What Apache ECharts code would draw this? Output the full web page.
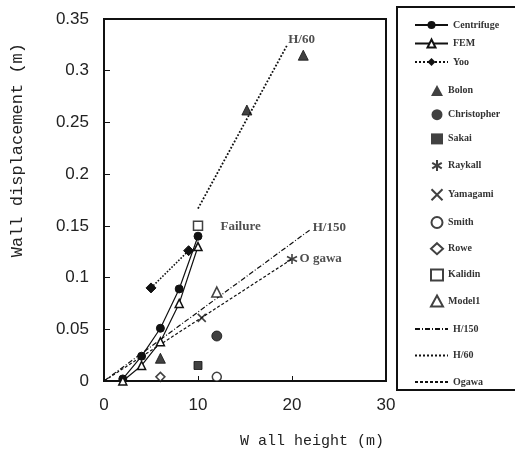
<!DOCTYPE html>
<html>
<head>
<meta charset="utf-8">
<script src="https://cdn.jsdelivr.net/npm/echarts@6/dist/echarts.min.js"></script>
<style>
  html, body { margin: 0; padding: 0; background: #fff; }
  #main { width: 515px; height: 452px; }
</style>
</head>
<body>
<div id="main"></div>
<script>
// 数据 (wall height m, displacement m)
const xTicks = [0, 10, 20, 30]

const centrifuge = [[2, 0.002], [4, 0.024], [6, 0.051], [8, 0.089], [10, 0.14]]
const fem = [[2, 0.0], [4, 0.015], [6, 0.038], [8, 0.075], [10, 0.13]]
const yoo = [[5, 0.09], [9, 0.126]]
const bolon = [[6, 0.022], [15.2, 0.262], [21.2, 0.315]]
const christopher = [[12, 0.0435]]
const sakai = [[10, 0.015]]
const raykall = [[20, 0.118]]
const yamagami = [[10.4, 0.061]]
const smith = [[12, 0.004]]
const rowe = [[6, 0.004]]
const kalidin = [[10, 0.15]]
const model1 = [[12, 0.086]]
const h150 = [[0, 0], [22, 0.1467]]
const h60 = [[10, 0.1667], [19.5, 0.325]]
const ogawa = [[0, 0], [20, 0.118]]

// 图上的注释文字
const notes = [
    {value: [19.6, 0.33], text: 'H/60'},
    {value: [22.2, 0.148], text: 'H/150'},
    {value: [20.8, 0.118], text: 'O gawa'},
    {value: [12.4, 0.149], text: 'Failure'}
]

const topNames = ['Centrifuge', 'FEM', 'Yoo']
const markNames = ['Bolon', 'Christopher', 'Sakai', 'Raykall', 'Yamagami', 'Smith', 'Rowe', 'Kalidin', 'Model1']
const refNames = ['H/150', 'H/60', 'Ogawa']

const ink = '#111'
const asterisk = 'path://M0,-1L0,1M-0.87,-0.5L0.87,0.5M-0.87,0.5L0.87,-0.5'
const cross = 'path://M-1,-1L1,1M-1,1L1,-1'

const filled = {color: ink, borderColor: ink}
const hollow = {color: '#fff', borderColor: ink, borderWidth: 1.5}
const stroked = {color: 'none', borderColor: ink, borderWidth: 1.6}

const scatter = (name, data, symbol, style, size) => ({
    name, type: 'scatter', data, symbol, symbolSize: size || 9,
    itemStyle: style, z: 5
})

const line = (name, data, type, symbol, style, width, size) => ({
    name, type: 'line', data, symbol: symbol || 'none', symbolSize: size || 8,
    showSymbol: !!symbol,
    lineStyle: {color: ink, width: width || 1.2, type: type},
    itemStyle: style || filled, z: 4
})

const legendText = {fontFamily: 'Liberation Serif', fontSize: 10, fontWeight: 'bold', color: '#333'}

var option = {
    animation: false,
    grid: {
        left: 104, right: 129, top: 19, bottom: 71,
        show: true, borderColor: ink, borderWidth: 2
    },
    xAxis: {
        type: 'value', min: 0, max: 30, interval: 10,
        axisLine: {onZero: false, lineStyle: {color: ink, width: 2}},
        axisTick: {inside: true, length: 5, lineStyle: {color: ink}},
        axisLabel: {margin: 16, fontSize: 17, color: '#222', fontFamily: 'Liberation Sans',
            customValues: xTicks},
        splitLine: {show: false}
    },
    yAxis: {
        type: 'value', min: 0, max: 0.35, interval: 0.05,
        axisLine: {show: true, onZero: false, lineStyle: {color: ink, width: 2}},
        axisTick: {show: true, inside: true, length: 6, lineStyle: {color: ink}},
        axisLabel: {margin: 15, fontSize: 17, color: '#222', fontFamily: 'Liberation Sans',
            formatter: v => String(+v.toFixed(2))},
        splitLine: {show: false}
    },
    legend: [
        {
            data: topNames, orient: 'vertical', left: 409, top: 15,
            itemWidth: 33, itemHeight: 10, itemGap: 8.5,
            textStyle: legendText, selectedMode: false
        },
        {
            data: markNames, orient: 'vertical', left: 424, top: 80,
            itemWidth: 12, itemHeight: 11, itemGap: 13.2,
            textStyle: legendText, selectedMode: false
        },
        {
            data: refNames.map(name => ({name, itemStyle: {opacity: 0}})),
            orient: 'vertical', left: 409, top: 319,
            itemWidth: 33, itemHeight: 10, itemGap: 16.5,
            textStyle: legendText, selectedMode: false
        }
    ],
    graphic: [
        {type: 'rect', shape: {x: 397, y: 7, width: 140, height: 383},
            style: {fill: 'none', stroke: ink, lineWidth: 2}, silent: true},
        {type: 'text', left: 9, top: 43, rotation: Math.PI / 2,
            style: {text: 'Wall displacement (m)', font: '17px "Liberation Mono"', fill: '#222'}},
        {type: 'text', left: 240, top: 434,
            style: {text: 'W all height (m)', font: '15px "Liberation Mono"', fill: '#222'}}
    ],
    series: [
        line('Centrifuge', centrifuge, 'solid', 'circle', filled),
        line('FEM', fem, 'solid', 'triangle', hollow),
        line('Yoo', yoo, 'dotted', 'diamond', filled, 1.6, 10),
        scatter('Bolon', bolon, 'triangle', filled, 10),
        scatter('Christopher', christopher, 'circle', filled, 10),
        scatter('Sakai', sakai, 'rect', filled, 8),
        scatter('Raykall', raykall, asterisk, stroked, 10),
        scatter('Yamagami', yamagami, cross, stroked, 8),
        scatter('Smith', smith, 'circle', hollow),
        scatter('Rowe', rowe, 'diamond', hollow),
        scatter('Kalidin', kalidin, 'rect', hollow, 9),
        scatter('Model1', model1, 'triangle', hollow, 10),
        line('H/150', h150, [5, 2, 1, 2]),
        line('H/60', h60, 'dotted', null, null, 1.8),
        line('Ogawa', ogawa, [3, 2]),
        {
            name: 'notes', type: 'scatter', symbolSize: 0,
            data: notes.map(n => ({value: n.value, label: {formatter: n.text}})),
            label: {show: true, position: 'right', distance: 0,
                fontFamily: 'Liberation Serif', fontSize: 13, fontWeight: 'bold', color: '#222'},
            silent: true
        }
    ]
}

var myChart = echarts.init(document.getElementById('main'))
myChart.setOption(option)
</script>
</body>
</html>
